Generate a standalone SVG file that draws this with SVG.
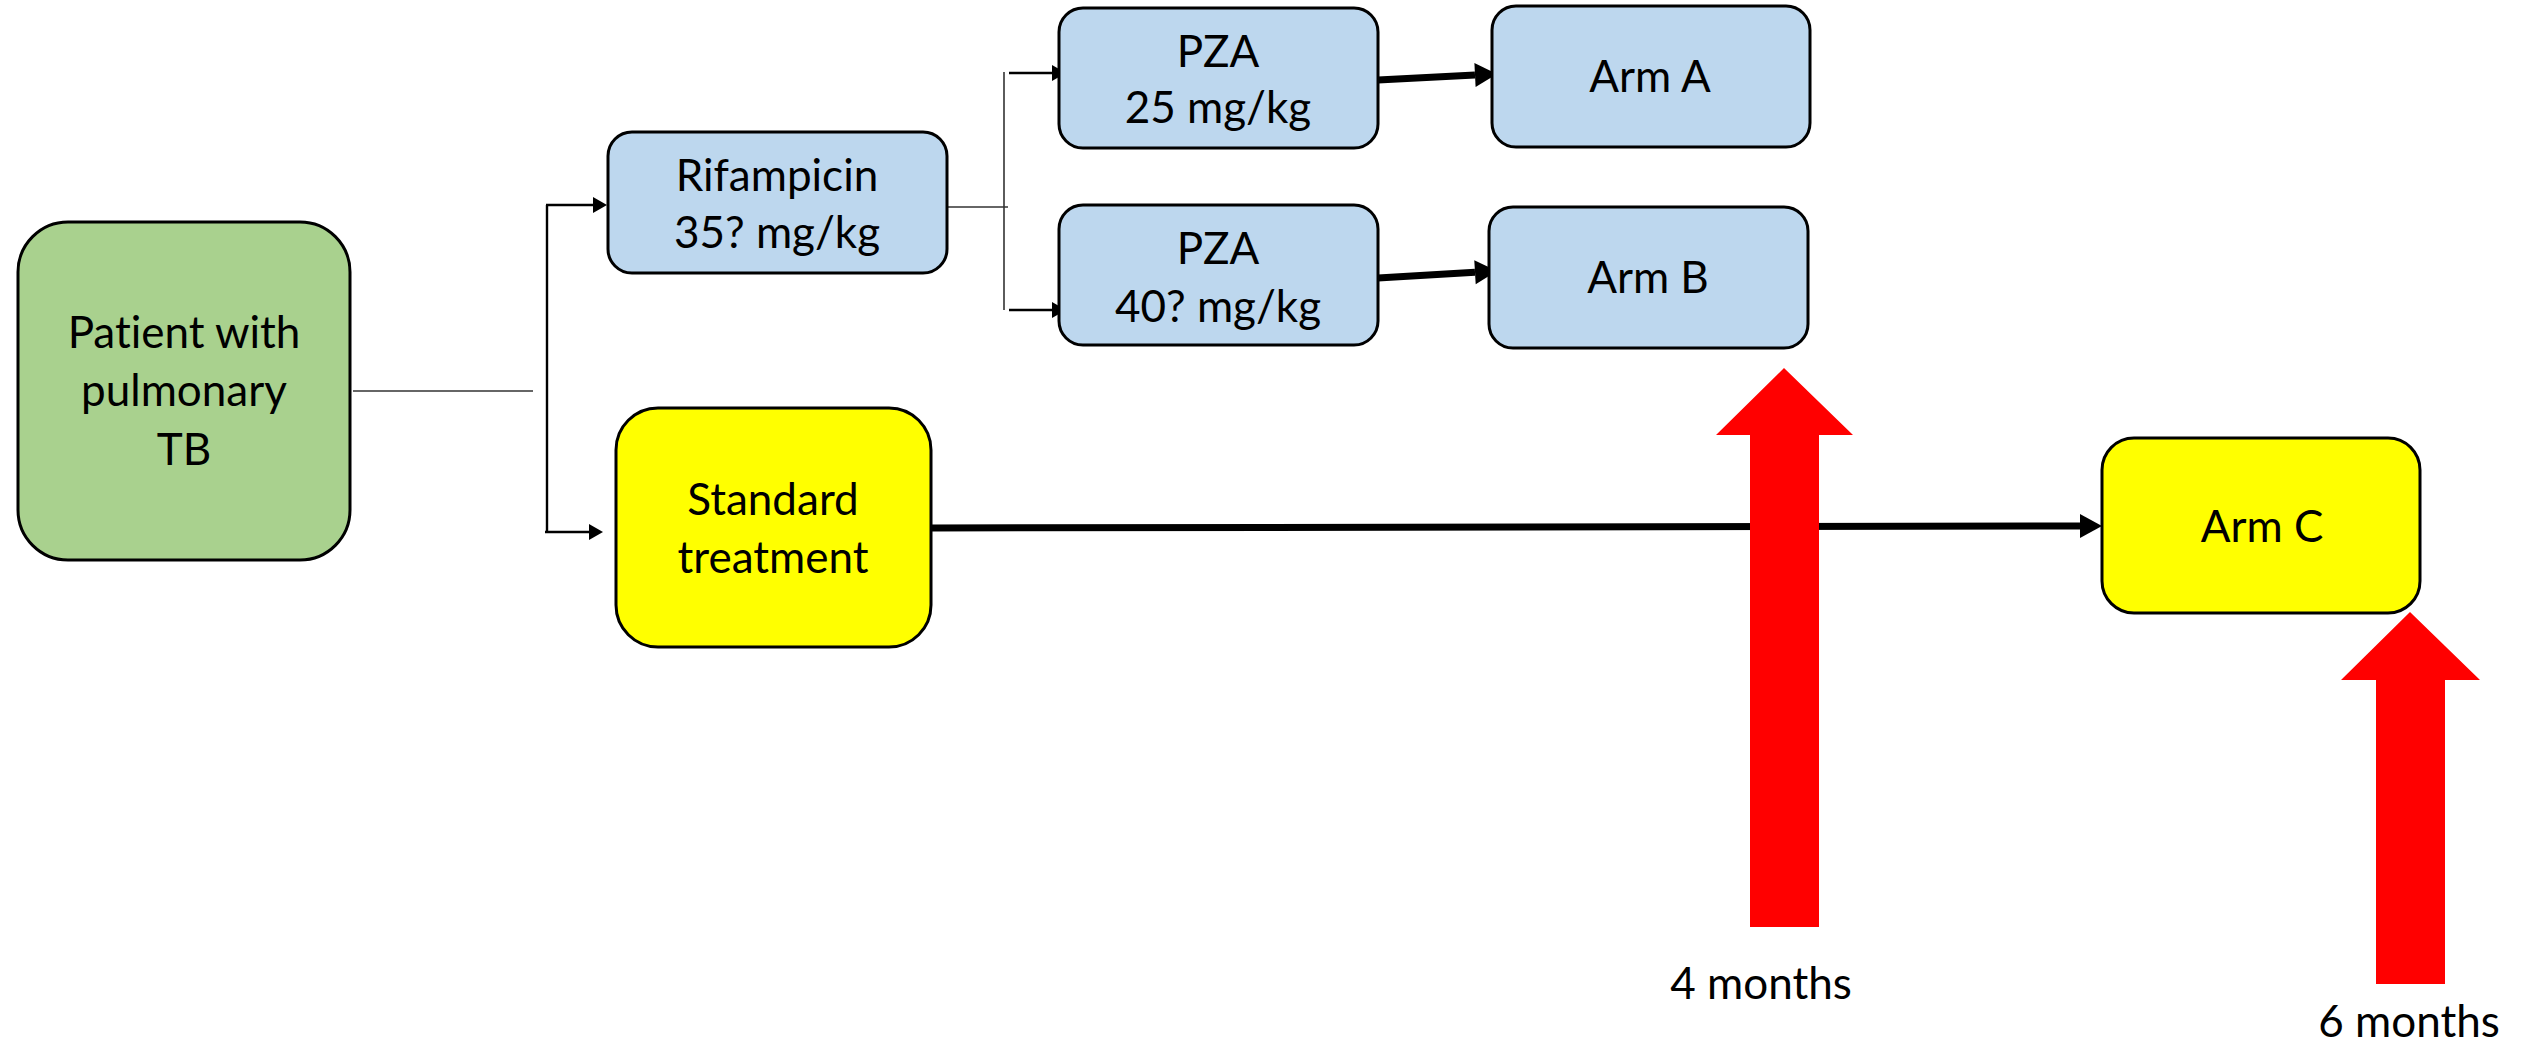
<svg xmlns="http://www.w3.org/2000/svg" width="2524" height="1041" viewBox="0 0 2524 1041">
<defs>
<style>
.box{stroke:#000;stroke-width:3}
.green{fill:#A9D18E}
.blue{fill:#BDD7EE}
.yellow{fill:#FFFF00}
.t{font-family:Lato,"Liberation Sans",sans-serif;font-size:44px;fill:#000;text-anchor:middle;font-variant-ligatures:none;font-feature-settings:"liga" 0}
.thin{stroke:#333;stroke-width:1.6;fill:none}
.arr{stroke:#000;stroke-width:2.4;fill:none;marker-end:url(#ah)}
.thick{stroke:#000;stroke-width:7;fill:none;marker-end:url(#ahb)}
.red{fill:#FF0000}
</style>
<marker id="ah" markerUnits="userSpaceOnUse" markerWidth="14" markerHeight="16" refX="0" refY="8" orient="auto" overflow="visible">
<path d="M0,0 L14,8 L0,16 z" fill="#000"/>
</marker>
<marker id="ahb" markerUnits="userSpaceOnUse" markerWidth="22" markerHeight="24" refX="0" refY="12" orient="auto" overflow="visible">
<path d="M0,0 L22,12 L0,24 z" fill="#000"/>
</marker>
</defs>
<rect width="2524" height="1041" fill="#fff"/>

<g id="connectors">
<line class="thin" x1="353" y1="391" x2="533" y2="391"/>
<line class="arr" x1="547" y1="205" x2="547" y2="532" style="marker-end:none"/>
<line class="arr" x1="546" y1="205" x2="593" y2="205"/>
<line class="arr" x1="545" y1="532" x2="589" y2="532"/>
<line class="thin" x1="932" y1="207" x2="1008" y2="207"/>
<line class="thin" x1="1004" y1="72" x2="1004" y2="310"/>
<line class="arr" x1="1009" y1="73" x2="1052" y2="73"/>
<line class="arr" x1="1009" y1="310" x2="1052" y2="310"/>
<line class="thick" x1="1378" y1="80" x2="1475" y2="75.1"/>
<line class="thick" x1="1378" y1="278" x2="1475" y2="272.3"/>
<line class="thick" x1="931" y1="528" x2="2080" y2="526"/>
</g>

<g id="node-patient">
<rect class="box green" x="18" y="222" width="332" height="338" rx="50" ry="50"/>
<text class="t" x="184" y="348">Patient with</text>
<text class="t" x="184" y="406">pulmonary</text>
<text class="t" x="184" y="465">TB</text>
</g>

<g id="node-rifampicin">
<rect class="box blue" x="608" y="132" width="339" height="141" rx="24" ry="24"/>
<text class="t" x="777" y="191">Rifampicin</text>
<text class="t" x="777" y="248">35? mg/kg</text>
</g>

<g id="node-pza25">
<rect class="box blue" x="1059" y="8" width="319" height="140" rx="24" ry="24"/>
<text class="t" x="1218" y="67">PZA</text>
<text class="t" x="1218" y="123">25 mg/kg</text>
</g>

<g id="node-pza40">
<rect class="box blue" x="1059" y="205" width="319" height="140" rx="24" ry="24"/>
<text class="t" x="1218" y="264">PZA</text>
<text class="t" x="1218" y="322">40? mg/kg</text>
</g>

<g id="node-arm-a">
<rect class="box blue" x="1492" y="6" width="318" height="141" rx="24" ry="24"/>
<text class="t" x="1650" y="92">Arm A</text>
</g>

<g id="node-arm-b">
<rect class="box blue" x="1489" y="207" width="319" height="141" rx="24" ry="24"/>
<text class="t" x="1648" y="293">Arm B</text>
</g>

<g id="node-standard">
<rect class="box yellow" x="616" y="408" width="315" height="239" rx="42" ry="42"/>
<text class="t" x="773" y="515">Standard</text>
<text class="t" x="773" y="573">treatment</text>
</g>

<g id="node-arm-c">
<rect class="box yellow" x="2102" y="438" width="318" height="175" rx="32" ry="32"/>
<text class="t" x="2262" y="542">Arm C</text>
</g>

<g id="marker-4months">
<polygon class="red" points="1784,368 1853,435 1819,435 1819,927 1750,927 1750,435 1716,435"/>
<text class="t" x="1761" y="999">4 months</text>
</g>

<g id="marker-6months">
<polygon class="red" points="2410,612 2480,680 2445,680 2445,984 2376,984 2376,680 2341,680"/>
<text class="t" x="2409" y="1037">6 months</text>
</g>
</svg>
